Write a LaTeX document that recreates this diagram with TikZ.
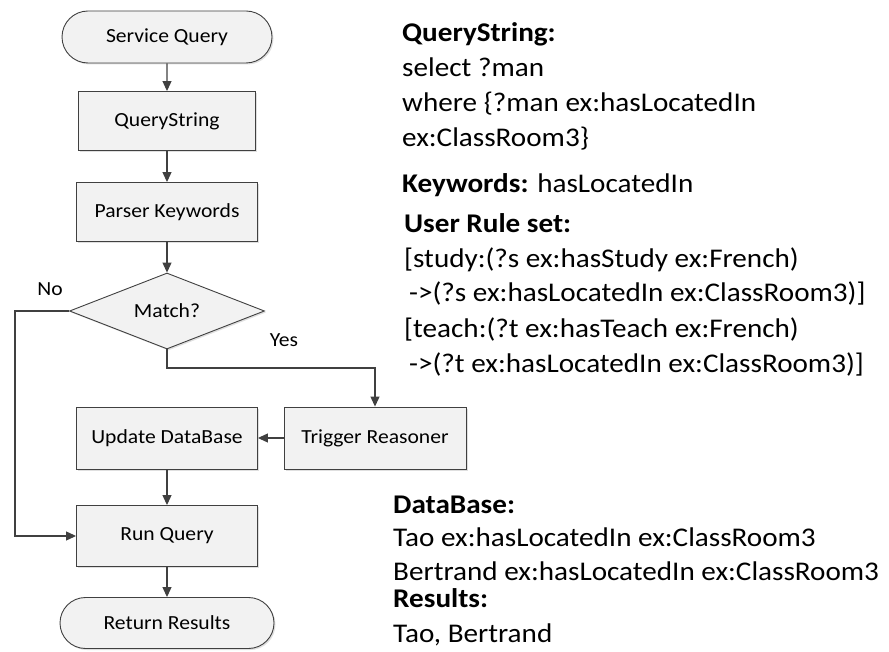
\documentclass[tikz,border=0pt]{standalone}
\usepackage{fontspec}
\setmainfont{Carlito}[FakeStretch=1.08]
\usetikzlibrary{arrows.meta, positioning, shapes.geometric, shapes.misc, shadows}
\definecolor{linegray}{HTML}{404040}
\definecolor{boxfill}{HTML}{F2F2F2}

\begin{document}
\begin{tikzpicture}[x=1pt,y=-1pt,
  flowbox/.style={draw=linegray,line width=0.9pt,fill=boxfill,inner sep=0pt,font=\fontsize{20}{24}\selectfont,drop shadow={shadow xshift=1.5pt,shadow yshift=-1.5pt,opacity=0.25}},
  procbox/.style={flowbox,rectangle,minimum width=181pt,minimum height=60pt},
  termbox/.style={flowbox,rounded rectangle,minimum width=210pt,minimum height=52pt},
  decbox/.style={flowbox,diamond,aspect=2.57,minimum width=195pt,minimum height=76pt},
  flowarrow/.style={draw=linegray,line width=1.1pt,-{Triangle[length=10pt,width=9pt]}},
  sidetext/.style={anchor=base west,inner sep=0pt,align=left,font=\fontsize{27}{35}\selectfont},
  branchlabel/.style={inner sep=0pt,font=\fontsize{20}{24}\selectfont}]
\useasboundingbox (0,0) rectangle (889,652);

\node[termbox] (srvq) at (167,37) {Service Query};
\node[procbox,minimum width=177pt,minimum height=59pt] (qstr) at (167,121) {QueryString};
\node[procbox,minimum height=59pt] (parse) at (167,212) {Parser Keywords};
\node[decbox] (match) at (167,311) {Match?};
\node[procbox,minimum width=182pt,minimum height=62pt] (trig) at (375,438) {Trigger Reasoner};
\node[procbox,minimum height=62pt] (upd) at (167,438) {Update DataBase};
\node[procbox,minimum height=61pt] (runq) at (167,536) {Run Query};
\node[termbox,minimum width=214pt,minimum height=51pt] (ret) at (167,623) {Return Results};

\node[branchlabel] (nolab) at (50,289) {No};
\node[branchlabel] (yeslab) at (284,340) {Yes};
\coordinate (nobend) at (15,311);
\coordinate (yesbend) at (167,368);

\draw[flowarrow] (srvq) -- (qstr);
\draw[flowarrow] (qstr) -- (parse);
\draw[flowarrow] (parse) -- (match);
\draw[flowarrow] (match.south) -- (yesbend) -| (trig.north);
\draw[flowarrow] (trig) -- (upd);
\draw[flowarrow] (upd) -- (runq);
\draw[flowarrow] (match.west) -- (nobend) |- (runq.west);
\draw[flowarrow] (runq) -- (ret);

\node[sidetext] (qstext) at (402,147) {\textbf{QueryString:}\\select ?man\\where \{?man ex:hasLocatedIn\\ex:ClassRoom3\}};
\node[sidetext] (kwtext) at (402,193) {\textbf{Keywords:} hasLocatedIn};
\node[sidetext] (ruletext) at (404,372) {\textbf{User Rule set:}\\{}[study:(?s ex:hasStudy ex:French)\\\hspace{5pt}->(?s ex:hasLocatedIn ex:ClassRoom3)]\\{}[teach:(?t ex:hasTeach ex:French)\\\hspace{5pt}->(?t ex:hasLocatedIn ex:ClassRoom3)]};
\node[sidetext,font=\fontsize{27}{33.5}\selectfont] (dbtext) at (393,580) {\textbf{DataBase:}\\Tao ex:hasLocatedIn ex:ClassRoom3\\Bertrand ex:hasLocatedIn ex:ClassRoom3};
\node[sidetext] (restext) at (393,642) {\textbf{Results:}\\Tao, Bertrand};
\end{tikzpicture}
\end{document}
